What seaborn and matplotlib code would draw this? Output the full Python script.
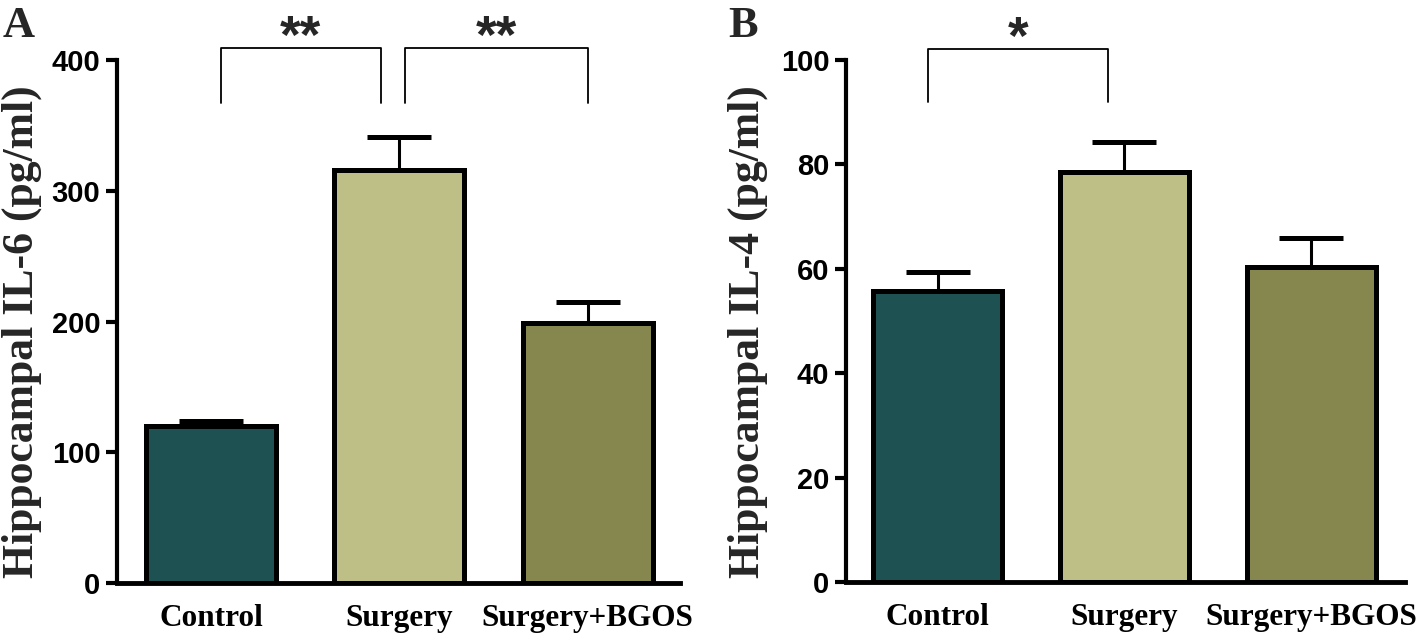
import matplotlib
matplotlib.use("Agg")
import matplotlib.pyplot as plt
import seaborn as sns
import pandas as pd

# --- dados ---
categories = ["Control", "Surgery", "Surgery+BGOS"]
il6_mean = [120, 316, 199]
il6_sem = [4, 25, 16]
il4_mean = [55.8, 78.6, 60.4]
il4_sem = [3.6, 5.6, 5.5]
bar_colors = ["#1d5152", "#bdbf87", "#85874f"]

il6_yticks = [0, 100, 200, 300, 400]
il4_yticks = [0, 20, 40, 60, 80, 100]

# brackets: (x esquerda, x direita, y topo, y base, texto)
il6_brackets = [(0.05, 0.90, 409, 367, "**"), (1.03, 2.00, 409, 367, "**")]
il4_brackets = [(-0.05, 0.91, 102, 92, "*")]

sns.set_theme(style="white")
serif = ["Liberation Serif", "DejaVu Serif"]
sans = ["Liberation Sans", "DejaVu Sans"]
plt.rcParams["font.family"] = serif

fig = plt.figure(figsize=(14.18, 6.4), dpi=100)
ax_a = fig.add_axes([0.0825, 0.0891, 0.397, 0.817])
ax_b = fig.add_axes([0.5966, 0.0906, 0.394, 0.816])


def draw_panel(ax, means, sems, yticks, ylabel, brackets, xlim, label_x):
    df = pd.DataFrame({"grupo": categories, "valor": means})
    sns.barplot(data=df, x="grupo", y="valor", hue="grupo", palette=bar_colors,
                saturation=1, width=0.69, edgecolor="black", linewidth=3.6,
                legend=False, ax=ax, zorder=3)
    xs = [p.get_x() + p.get_width() / 2 for p in ax.patches]
    ax.errorbar(xs, means, yerr=[[0] * len(sems), sems], fmt="none",
                ecolor="black", elinewidth=2.2, capsize=23, capthick=3.6, zorder=2)
    ax.set_ylim(yticks[0], yticks[-1])
    ax.set_xlim(*xlim)
    ax.set_yticks(yticks)
    ax.set_yticklabels([str(t) for t in yticks], family=sans,
                       fontweight="bold", fontsize=21)
    ax.set_xticks(range(len(categories)))
    ax.set_xticklabels(categories, family=serif, fontweight="bold", fontsize=22.5)
    ax.tick_params(axis="y", left=True, length=8, width=3, pad=4, colors="black")
    ax.tick_params(axis="x", bottom=False, pad=9, colors="black")
    ax.set_xlabel("")
    ax.set_ylabel(ylabel, family=serif, fontweight="bold", fontsize=31.5)
    ax.yaxis.set_label_coords(label_x, 0.48)
    for side in ["top", "right"]:
        ax.spines[side].set_visible(False)
    ax.spines["left"].set_linewidth(3)
    ax.spines["bottom"].set_linewidth(3.5)
    ax.spines["left"].set_color("black")
    ax.spines["bottom"].set_color("black")
    for x0, x1, ytop, ybase, txt in brackets:
        ax.plot([x0, x0, x1, x1], [ybase, ytop, ytop, ybase], color="black",
                lw=1.3, clip_on=False)
        ax.annotate(txt, xy=((x0 + x1) / 2, ytop), xytext=(0, -3),
                    textcoords="offset points", ha="center", va="baseline",
                    family=sans, fontweight="bold", fontsize=38,
                    annotation_clip=False)


draw_panel(ax_a, il6_mean, il6_sem, il6_yticks, "Hippocampal IL-6 (pg/ml)",
           il6_brackets, (-0.5, 2.49), -0.133)
draw_panel(ax_b, il4_mean, il4_sem, il4_yticks, "Hippocampal IL-4 (pg/ml)",
           il4_brackets, (-0.49, 2.5), -0.14)

fig.text(0.002, 1 - 37 / 640, "A", family=serif, fontweight="bold", fontsize=32)
fig.text(728 / 1418, 1 - 37 / 640, "B", family=serif, fontweight="bold", fontsize=32)

fig.savefig("out.png", dpi=100, facecolor="white")
